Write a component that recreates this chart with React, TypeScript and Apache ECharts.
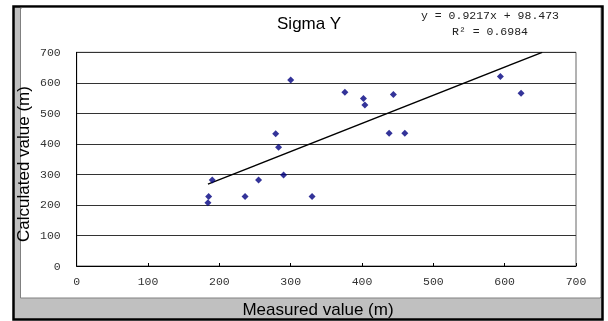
import React, { useEffect, useRef } from "react";
import * as echarts from "echarts";

const measured = [300, 376, 402, 404, 279, 283, 190, 255, 290, 185, 236, 330, 184, 594, 623, 444, 438, 460];
const calculated = [609, 569, 549, 527, 433, 389, 282, 282, 298, 228, 228, 228, 207, 621, 566, 562, 435, 435];
const slope = 0.9217;
const intercept = 98.473;
const axisMax = 700;
const titleText = "Sigma Y";
const equationText = "y = 0.9217x + 98.473";
const rSquaredText = "R\u00b2 = 0.6984";
const xTitle = "Measured value (m)";
const yTitle = "Calculated value (m)";

export default function App() {
  const ref = useRef<HTMLDivElement>(null);
  useEffect(() => {
    if (!ref.current) return;
    const chart = echarts.init(ref.current, null, { renderer: "svg" });
    const points = measured.map((x, i) => [x, calculated[i]]);
    const xStart = Math.min(...measured);
    const xEnd = (axisMax - intercept) / slope;
    const trend = [
      [xStart, slope * xStart + intercept],
      [xEnd, slope * xEnd + intercept],
    ];
    const tickFont = { fontFamily: "Liberation Mono", fontSize: 11.5, color: "#333" };
    chart.setOption({
      animation: false,
      backgroundColor: "transparent",
      graphic: [
        { type: "rect", z: -10, shape: { x: 13.5, y: 6.5, width: 589, height: 313 }, style: { fill: "#c0c0c0", stroke: "#000", lineWidth: 2.5 } },
        { type: "rect", z: -9, shape: { x: 20.5, y: 8, width: 580, height: 290 }, style: { fill: "#fff", stroke: "#808080", lineWidth: 1 } },
        { type: "rect", z: -8, shape: { x: 22, y: 8, width: 578.5, height: 289 }, style: { fill: "#fff" } },
        { type: "text", x: 309, y: 23, style: { text: titleText, font: "17px Liberation Sans", fill: "#000", align: "center", verticalAlign: "middle" } },
        { type: "text", x: 490, y: 15, style: { text: equationText, font: "11.5px Liberation Mono", fill: "#222", align: "center", verticalAlign: "middle" } },
        { type: "text", x: 490, y: 31, style: { text: rSquaredText, font: "11.5px Liberation Mono", fill: "#222", align: "center", verticalAlign: "middle" } },
        { type: "text", x: 318, y: 309, style: { text: xTitle, font: "17px Liberation Sans", fill: "#000", align: "center", verticalAlign: "middle" } },
        { type: "text", x: 23, y: 164, rotation: Math.PI / 2, style: { text: yTitle, font: "17px Liberation Sans", fill: "#000", align: "center", verticalAlign: "middle" } },
      ],
      grid: { left: 76.7, right: 32, top: 52.3, bottom: 55, show: true, borderColor: "#666", borderWidth: 1, backgroundColor: "transparent" },
      xAxis: {
        type: "value", min: 0, max: axisMax, interval: 100,
        axisLine: { show: true, onZero: false, lineStyle: { color: "#000", width: 1 } },
        axisTick: { show: true, inside: true, length: 3, lineStyle: { color: "#000" } },
        axisLabel: { ...tickFont, margin: 9 },
        splitLine: { show: false },
      },
      yAxis: {
        type: "value", min: 0, max: axisMax, interval: 100,
        axisLine: { show: true, onZero: false, lineStyle: { color: "#000", width: 1 } },
        axisTick: { show: false },
        axisLabel: { ...tickFont, margin: 16 },
        splitLine: { show: true, lineStyle: { color: "#333", width: 1 } },
      },
      series: [
        {
          type: "line", data: trend, showSymbol: false, symbol: "none",
          lineStyle: { color: "#000", width: 1.3 }, z: 2,
        },
        {
          type: "scatter", data: points, symbol: "diamond", symbolSize: 7,
          itemStyle: { color: "#000080" }, z: 3,
        },
      ],
    });
    return () => chart.dispose();
  }, []);
  return <div ref={ref} style={{ position: "fixed", left: 0, top: 0, width: 608, height: 321 }} />;
}
